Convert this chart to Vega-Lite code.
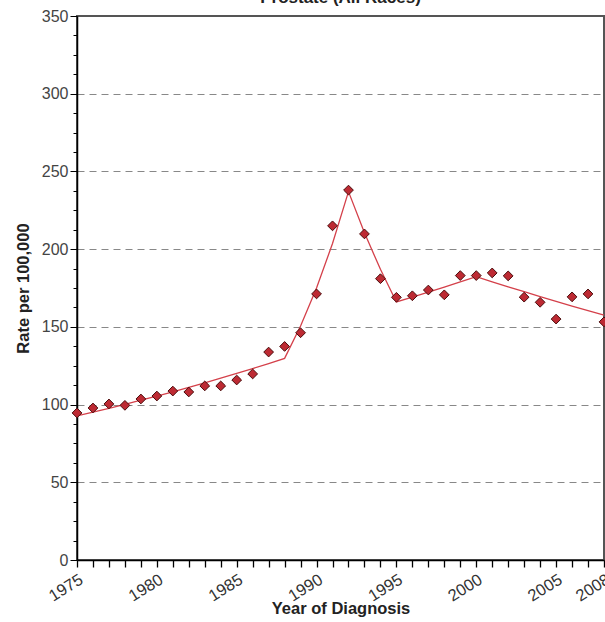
{
  "$schema": "https://vega.github.io/schema/vega-lite/v6.json",
  "width": 527,
  "height": 544,
  "autosize": {"type": "none"},
  "padding": {"left": 77, "top": 16, "right": 1, "bottom": 62},
  "background": "white",
  "title": {"text": "Prostate (All Races)", "frame": "group", "anchor": "middle", "offset": 0, "dy": 16, "baseline": "bottom", "fontSize": 17, "fontWeight": "bold", "font": "Liberation Sans", "color": "#222"},
  "config": {
    "view": {"stroke": "#555", "strokeWidth": 2},
    "font": "Liberation Sans"
  },
  "data": {
    "values": [
      {"year": 1975, "rate": 94.6, "fit": 92.7},
      {"year": 1976, "rate": 97.8, "fit": 95.1},
      {"year": 1977, "rate": 100.4, "fit": 97.6},
      {"year": 1978, "rate": 99.5, "fit": 100.2},
      {"year": 1979, "rate": 103.6, "fit": 102.8},
      {"year": 1980, "rate": 105.5, "fit": 105.5},
      {"year": 1981, "rate": 108.7, "fit": 108.2},
      {"year": 1982, "rate": 108.1, "fit": 111.1},
      {"year": 1983, "rate": 112.0, "fit": 114.0},
      {"year": 1984, "rate": 112.0, "fit": 117.0},
      {"year": 1985, "rate": 115.8, "fit": 120.0},
      {"year": 1986, "rate": 119.7, "fit": 123.2},
      {"year": 1987, "rate": 133.8, "fit": 126.4},
      {"year": 1988, "rate": 137.4, "fit": 129.7},
      {"year": 1989, "rate": 146.2, "fit": 150.5},
      {"year": 1990, "rate": 171.2, "fit": 175.0},
      {"year": 1991, "rate": 215.0, "fit": 203.6},
      {"year": 1992, "rate": 238.0, "fit": 237.0},
      {"year": 1993, "rate": 209.8, "fit": 210.5},
      {"year": 1994, "rate": 181.0, "fit": 187.0},
      {"year": 1995, "rate": 169.0, "fit": 166.0},
      {"year": 1996, "rate": 170.0, "fit": 169.1},
      {"year": 1997, "rate": 173.7, "fit": 172.3},
      {"year": 1998, "rate": 170.6, "fit": 175.6},
      {"year": 1999, "rate": 183.0, "fit": 178.9},
      {"year": 2000, "rate": 183.0, "fit": 182.3},
      {"year": 2001, "rate": 184.7, "fit": 179.0},
      {"year": 2002, "rate": 182.8, "fit": 175.8},
      {"year": 2003, "rate": 169.1, "fit": 172.6},
      {"year": 2004, "rate": 165.8, "fit": 169.5},
      {"year": 2005, "rate": 155.0, "fit": 166.4},
      {"year": 2006, "rate": 169.3, "fit": 163.4},
      {"year": 2007, "rate": 171.2, "fit": 160.5},
      {"year": 2008, "rate": 153.2, "fit": 157.6}
    ]
  },
  "encoding": {
    "x": {
      "field": "year",
      "type": "quantitative",
      "scale": {"domain": [1975, 2008], "nice": false, "zero": false},
      "axis": {
        "title": "Year of Diagnosis",
        "titleFontSize": 16.5,
        "titleFontWeight": "bold",
        "titleColor": "#222",
        "titleY": 53,
        "titleBaseline": "alphabetic",
        "values": [1975,1976,1977,1978,1979,1980,1981,1982,1983,1984,1985,1986,1987,1988,1989,1990,1991,1992,1993,1994,1995,1996,1997,1998,1999,2000,2001,2002,2003,2004,2005,2006,2007,2008],
        "format": "d",
        "labelExpr": "indexof([1975,1980,1985,1990,1995,2000,2005,2008], datum.value) >= 0 ? datum.label : ''",
        "labelAngle": -32,
        "labelAlign": "right",
        "labelBaseline": "top",
        "labelFontSize": 16.5,
        "labelColor": "#333",
        "labelOverlap": false,
        "labelFlush": false,
        "labelPadding": 4,
        "tickSize": 7,
        "tickColor": "#000",
        "tickWidth": 1.3,
        "domainColor": "#000",
        "domainWidth": 1.5,
        "grid": false
      }
    },
    "y": {
      "type": "quantitative",
      "scale": {"domain": [0, 350], "nice": false},
      "axis": {
        "title": "Rate per 100,000",
        "titleFontSize": 16.5,
        "titleFontWeight": "bold",
        "titleColor": "#222",
        "titlePadding": 10,
        "values": [0,12.5,25,37.5,50,62.5,75,87.5,100,112.5,125,137.5,150,162.5,175,187.5,200,212.5,225,237.5,250,262.5,275,287.5,300,312.5,325,337.5,350],
        "labelExpr": "datum.value % 50 == 0 ? datum.label : ''",
        "labelFontSize": 16,
        "labelColor": "#444",
        "labelPadding": 2,
        "tickSize": {"condition": {"test": "datum.value % 50 == 0", "value": 7}, "value": 4},
        "tickColor": "#000",
        "domainColor": "#000",
        "domainWidth": 1.5,
        "grid": true,
        "gridColor": "#888",
        "gridDash": [7, 5],
        "gridWidth": 1,
        "gridOpacity": {"condition": {"test": "datum.value % 50 == 0 && datum.value > 0 && datum.value < 350", "value": 1}, "value": 0}
      }
    }
  },
  "layer": [
    {
      "mark": {"type": "line", "color": "#d4404a", "strokeWidth": 1.3},
      "encoding": {"y": {"field": "fit", "type": "quantitative"}}
    },
    {
      "mark": {"type": "point", "shape": "diamond", "filled": true, "size": 95, "fill": "#bd2a33", "stroke": "#4a0c0c", "strokeWidth": 1, "opacity": 1},
      "encoding": {"y": {"field": "rate", "type": "quantitative"}}
    }
  ]
}
